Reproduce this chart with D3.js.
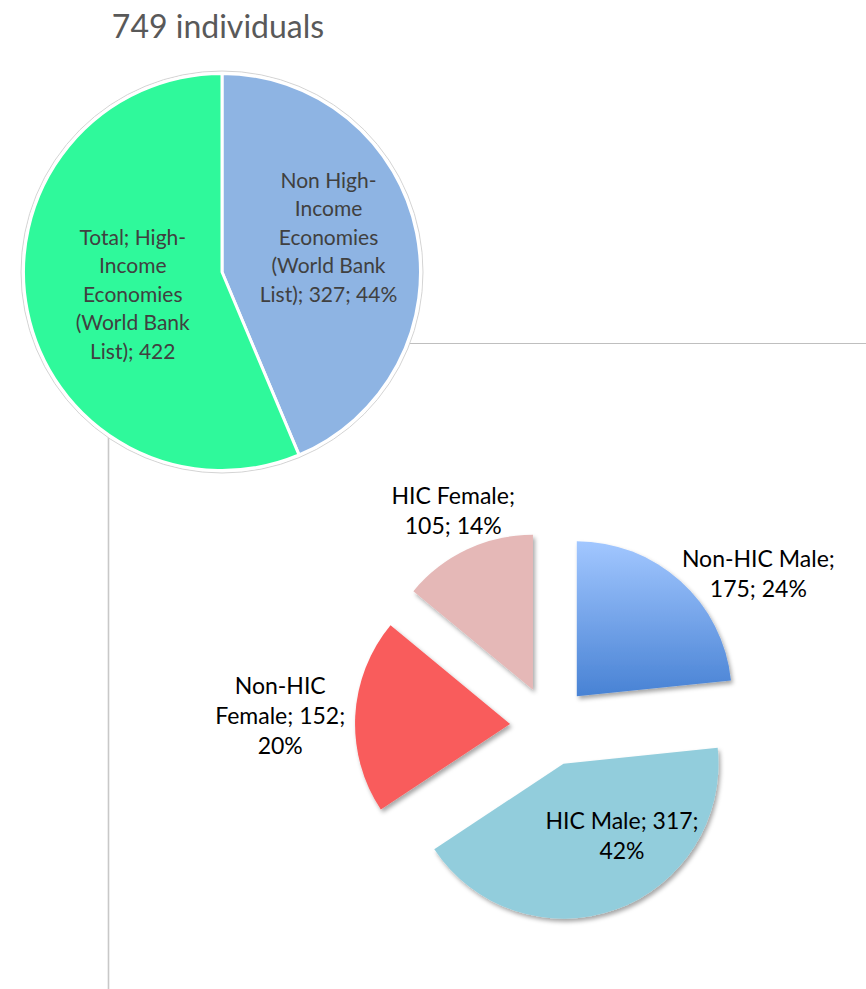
<!DOCTYPE html>
<html>
<head>
<meta charset="utf-8">
<script src="https://cdn.jsdelivr.net/npm/d3@7"></script>
<style>
  html, body { margin: 0; padding: 0; background: #fff; }
  svg { display: block; font-family: Lato, "Open Sans", sans-serif; }
</style>
</head>
<body>
<svg id="chart" width="866" height="989"></svg>
<script>
// overview pie (all respondents)
const overviewTitle = "749 individuals";
const overviewNames = ["Non High-Income Economies (World Bank List)", "Total; High-Income Economies (World Bank List)"];
const overviewValues = [327, 422];
const overviewColors = ["#8EB4E3", "#2FF99B"];
const overviewLabels = [
  ["Non High-", "Income", "Economies", "(World Bank", "List); 327; 44%"],
  ["Total; High-", "Income", "Economies", "(World Bank", "List); 422"]
];

// breakdown pie (income group x gender)
const breakdownNames = ["Non-HIC Male", "HIC Male", "Non-HIC Female", "HIC Female"];
const breakdownValues = [175, 317, 152, 105];
const breakdownColors = ["url(#blueGrad)", "#92CDDC", "#F95B5B", "#E5B8B7"];
const breakdownLabels = [
  ["Non-HIC Male;", "175; 24%"],
  ["HIC Male; 317;", "42%"],
  ["Non-HIC", "Female; 152;", "20%"],
  ["HIC Female;", "105; 14%"]
];

// label anchors: polar offset from the slice tip (degrees clockwise from top, px)
const overviewLabelPos = { 0: [72, 112], 1: [256, 92] };
const breakdownLabelPos = { 0: [56, 219], 1: [141, 93], 2: [272, 230], 3: [336, 196] };

const svg = d3.select("#chart");
const defs = svg.append("defs");

const grad = defs.append("linearGradient")
  .attr("id", "blueGrad").attr("x1", 0).attr("y1", 0).attr("x2", 0).attr("y2", 1);
grad.append("stop").attr("offset", "0%").attr("stop-color", "#A2C7FF");
grad.append("stop").attr("offset", "100%").attr("stop-color", "#4882D4");

const shadow = defs.append("filter").attr("id", "shadow")
  .attr("x", "-10%").attr("y", "-10%").attr("width", "130%").attr("height", "130%");
shadow.append("feDropShadow")
  .attr("dx", 2).attr("dy", 3).attr("stdDeviation", 2)
  .attr("flood-color", "#000").attr("flood-opacity", 0.35);

function polar(angleDeg, r) {
  const a = angleDeg * Math.PI / 180;
  return [r * Math.sin(a), -r * Math.cos(a)];
}

function drawLabel(g, lines, x, y, size, lineH, color) {
  const n = lines.length;
  const t = g.append("text")
    .attr("text-anchor", "middle")
    .attr("font-size", size)
    .attr("fill", color);
  lines.forEach((line, i) => {
    t.append("tspan")
      .attr("x", x)
      .attr("y", y + (i - (n - 1) / 2) * lineH)
      .attr("dy", "0.35em")
      .text(line);
  });
}

// connector lines
svg.append("line")
  .attr("x1", 222).attr("x2", 866).attr("y1", 343.5).attr("y2", 343.5)
  .attr("stroke", "#BFBFBF").attr("stroke-width", 1);
svg.append("line")
  .attr("x1", 108.5).attr("x2", 108.5).attr("y1", 272).attr("y2", 989)
  .attr("stroke", "#C8C8C8").attr("stroke-width", 1.6);

// title
svg.append("text")
  .attr("x", 218).attr("y", 38)
  .attr("text-anchor", "middle")
  .attr("font-size", 32)
  .attr("fill", "#595959")
  .text(overviewTitle);

// overview pie
const topCx = 222, topCy = 272, topR = 200;
const topPie = d3.pie().sort(null).value(d => d)(overviewValues);
const topArc = d3.arc().innerRadius(0).outerRadius(topR - 1.5);
const topG = svg.append("g").attr("transform", `translate(${topCx},${topCy})`);

topG.append("circle").attr("r", topR + 1).attr("fill", "#fff")
  .attr("stroke", "#D4D4D4").attr("stroke-width", 1);
topG.selectAll("path.slice")
  .data(topPie)
  .enter()
  .append("path")
  .attr("class", "slice")
  .attr("d", topArc)
  .attr("fill", (d, i) => overviewColors[i])
  .attr("stroke", "#fff")
  .attr("stroke-width", 3)
  .attr("stroke-linejoin", "round");

topPie.forEach((d, i) => {
  const [lx, ly] = polar(...overviewLabelPos[i]);
  drawLabel(topG, overviewLabels[i], lx, ly, 21, 28.5, "#404040");
});

// breakdown pie (exploded)
const botCx = 550, botCy = 726, botR = 155, explode = 40;
const botPie = d3.pie().sort(null).value(d => d)(breakdownValues);
const botArc = d3.arc().innerRadius(0).outerRadius(botR);
const botG = svg.append("g").attr("transform", `translate(${botCx},${botCy})`);

const sliceG = botG.selectAll("g.slice")
  .data(botPie)
  .enter()
  .append("g")
  .attr("class", "slice")
  .attr("transform", d => {
    const mid = (d.startAngle + d.endAngle) / 2 * 180 / Math.PI;
    const [ox, oy] = polar(mid, explode);
    return `translate(${ox},${oy})`;
  });

sliceG.append("path")
  .attr("d", botArc)
  .attr("fill", (d, i) => breakdownColors[i])
  .attr("filter", "url(#shadow)");

sliceG.each(function (d, i) {
  const [lx, ly] = polar(...breakdownLabelPos[i]);
  drawLabel(d3.select(this), breakdownLabels[i], lx, ly, 23, 30, "#000");
});
</script>
</body>
</html>
